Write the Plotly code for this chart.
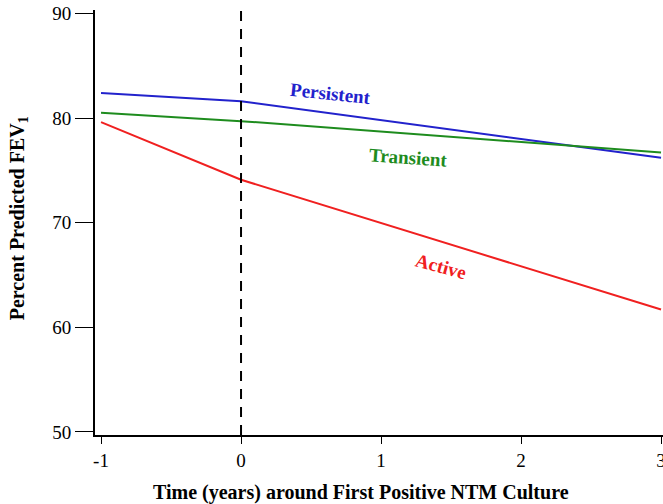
import plotly.graph_objects as go

years = [-1, 0, 3]
persistent = [82.4, 81.6, 76.2]
transient = [80.5, 79.7, 76.7]
active = [79.6, 74.1, 61.7]

x_ticks = [-1, 0, 1, 2, 3]
y_ticks = [50, 60, 70, 80, 90]

FONT = "Liberation Serif"

fig = go.Figure()
fig.add_trace(go.Scatter(x=years, y=persistent, mode="lines", name="Persistent",
                         line=dict(color="#2222cc", width=2)))
fig.add_trace(go.Scatter(x=years, y=transient, mode="lines", name="Transient",
                         line=dict(color="#1e8c1e", width=2)))
fig.add_trace(go.Scatter(x=years, y=active, mode="lines", name="Active",
                         line=dict(color="#f02020", width=2)))

fig.add_shape(type="line", x0=0, x1=0, y0=0, y1=1, xref="x", yref="paper",
              line=dict(color="black", width=2, dash="10px,8px"))

labels = [
    ("Persistent", 0.64, 82.3, 6, "#2222cc"),
    ("Transient", 1.19, 76.2, 4, "#1e8c1e"),
    ("Active", 1.43, 65.8, 15, "#f02020"),
]
for text, lx, ly, ang, col in labels:
    fig.add_annotation(x=lx, y=ly, text="<b>" + text + "</b>", showarrow=False,
                       textangle=ang, font=dict(family=FONT, size=19, color=col))

# axis titles
fig.add_annotation(xref="paper", yref="paper", x=0, y=0.51, xshift=-77,
                   text="<b>Percent Predicted FEV<sub>1</sub></b>", textangle=-90,
                   showarrow=False, xanchor="center", yanchor="middle",
                   font=dict(family=FONT, size=20, color="black"))
fig.add_annotation(xref="paper", yref="paper", x=0.468, y=0, yshift=-57,
                   text="<b>Time (years) around First Positive NTM Culture</b>",
                   showarrow=False, xanchor="center", yanchor="middle",
                   font=dict(family=FONT, size=20, color="black"))

fig.update_layout(
    width=663, height=504,
    margin=dict(l=95, r=0, t=10, b=69),
    paper_bgcolor="white", plot_bgcolor="white",
    showlegend=False,
    font=dict(family=FONT, color="black"),
)
fig.update_xaxes(range=[-1.043, 3.014], tickvals=x_ticks, ticktext=[str(v) for v in x_ticks],
                 showgrid=False, zeroline=False, showline=True, linecolor="black", linewidth=2,
                 ticks="outside", ticklen=7, tickcolor="black", tickwidth=1,
                 tickfont=dict(family=FONT, size=19), automargin=False,
                 ticklabeloverflow="allow")
fig.update_yaxes(range=[49.71, 90.32], tickvals=y_ticks, ticktext=[str(v) for v in y_ticks],
                 showgrid=False, zeroline=False, showline=True, linecolor="black", linewidth=2,
                 ticks="outside", ticklen=18, tickcolor="black", tickwidth=1,
                 tickfont=dict(family=FONT, size=19), automargin=False)

fig.write_html("out.html", config={"displayModeBar": False},
               post_script="document.body.style.margin='0px';")
